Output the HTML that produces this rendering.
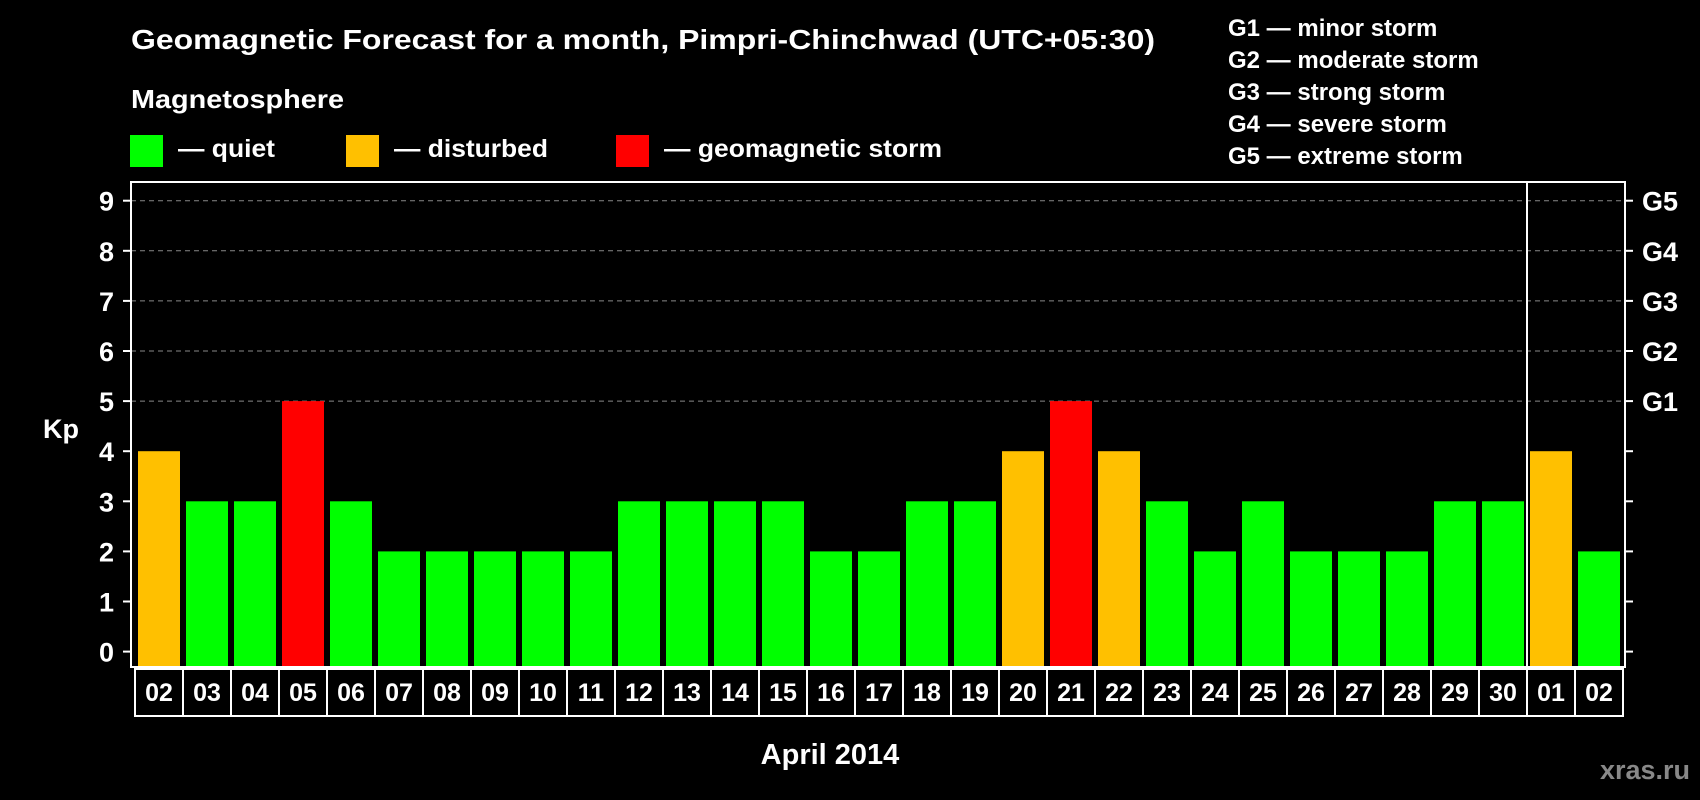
<!DOCTYPE html>
<html><head><meta charset="utf-8"><style>
html,body{margin:0;padding:0;background:#000;width:1700px;height:800px;overflow:hidden}
text{font-family:"Liberation Sans",Arial,sans-serif;font-weight:bold;fill:#fff}
</style></head><body>
<svg id="chart" width="1700" height="800" xmlns="http://www.w3.org/2000/svg">
<rect width="1700" height="800" fill="#000"/>
<text x="131" y="49" font-size="28" textLength="1024" lengthAdjust="spacingAndGlyphs">Geomagnetic Forecast for a month, Pimpri-Chinchwad (UTC+05:30)</text>
<text x="131" y="108" font-size="26" textLength="213" lengthAdjust="spacingAndGlyphs">Magnetosphere</text>
<g><rect x="130" y="135" width="33" height="32" fill="#00ff00"/><text x="178" y="157" font-size="25" textLength="97" lengthAdjust="spacingAndGlyphs">— quiet</text></g>
<g><rect x="346" y="135" width="33" height="32" fill="#ffc000"/><text x="394" y="157" font-size="25" textLength="154" lengthAdjust="spacingAndGlyphs">— disturbed</text></g>
<g><rect x="616" y="135" width="33" height="32" fill="#ff0000"/><text x="664" y="157" font-size="25" textLength="278" lengthAdjust="spacingAndGlyphs">— geomagnetic storm</text></g>
<g>
<text x="1228" y="36" font-size="24">G1 — minor storm</text>
<text x="1228" y="68" font-size="24">G2 — moderate storm</text>
<text x="1228" y="100" font-size="24">G3 — strong storm</text>
<text x="1228" y="132" font-size="24">G4 — severe storm</text>
<text x="1228" y="164" font-size="24">G5 — extreme storm</text>
</g>
<g id="grid"></g><g id="bars"></g><g id="axes"></g>
<text x="43" y="438" font-size="27">Kp</text>
<text x="830" y="764" font-size="29" text-anchor="middle">April 2014</text>
<text x="1690" y="779" font-size="27" text-anchor="end" style="fill:#888">xras.ru</text>
</svg>
<script>
const days=["02","03","04","05","06","07","08","09","10","11","12","13","14","15","16","17","18","19","20","21","22","23","24","25","26","27","28","29","30","01","02"];
const kp=[4,3,3,5,3,2,2,2,2,2,3,3,3,3,2,2,3,3,4,5,4,3,2,3,2,2,2,3,3,4,2];
const yTicks=[0,1,2,3,4,5,6,7,8,9];
const gLabels=["G1","G2","G3","G4","G5"];
const gLevels=[5,6,7,8,9];
const NS="http://www.w3.org/2000/svg";
const L=131,R=1625,T=182,B=667,slot=48,x0=135,sepIndex=29;
function y(v){return 651.6-v*50.1;}
function x(i){return x0+i*slot;}
function mk(tag,attrs,parent){const e=document.createElementNS(NS,tag);for(const k in attrs)e.setAttribute(k,attrs[k]);parent.appendChild(e);return e;}
const grid=document.getElementById('grid'),bars=document.getElementById('bars'),axes=document.getElementById('axes');
gLevels.forEach(v=>{const l=mk('line',{x1:L,x2:R,y1:y(v),y2:y(v),stroke:'#888','stroke-width':1,'stroke-dasharray':'5,4'},grid);

});
kp.forEach((v,i)=>{const c=v>=5?'#ff0000':(v>=4?'#ffc000':'#00ff00');
const r=mk('rect',{x:x(i)+3,y:y(v),width:42,height:B-y(v),fill:c},bars);

});
const f=mk('rect',{x:L,y:T,width:R-L,height:B-T,fill:'none',stroke:'#fff','stroke-width':2},axes);


const s=mk('line',{x1:x(sepIndex),x2:x(sepIndex),y1:T,y2:B,stroke:'#fff','stroke-width':2},axes);


yTicks.forEach(v=>{mk('line',{x1:L-8,x2:L,y1:y(v),y2:y(v),stroke:'#fff','stroke-width':2},axes);
mk('line',{x1:R,x2:R+8,y1:y(v),y2:y(v),stroke:'#fff','stroke-width':2},axes);
const t=mk('text',{x:114,y:y(v)+10,'font-size':27,'text-anchor':'end'},axes);t.textContent=v;

});
gLabels.forEach((g,i)=>{const t=mk('text',{x:1642,y:y(gLevels[i])+10,'font-size':27},axes);t.textContent=g;

});
days.forEach((d,i)=>{const r=mk('rect',{x:x(i),y:B+2,width:slot,height:47,fill:'none',stroke:'#fff','stroke-width':2},axes);


const t=mk('text',{x:x(i)+slot/2,y:701,'font-size':25,'text-anchor':'middle'},axes);t.textContent=d;

});
</script>
</body></html>
